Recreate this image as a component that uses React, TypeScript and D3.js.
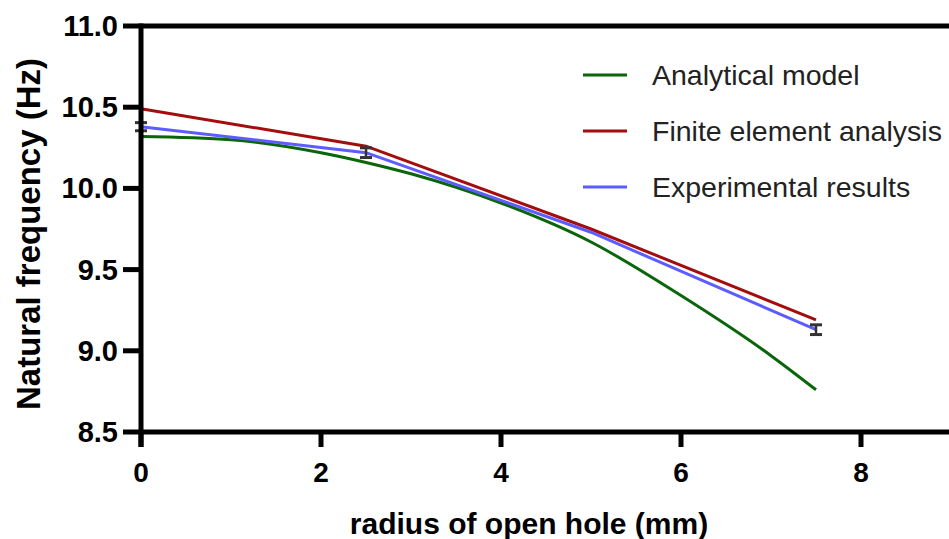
import React, { useEffect, useRef } from 'react';
import * as d3 from 'd3';

// radius of open hole (mm)
const analyticalX = [0, 1, 2, 2.5, 3, 4, 5, 6, 7, 7.5];
const analyticalY = [10.32, 10.3, 10.22, 10.16, 10.09, 9.91, 9.67, 9.34, 8.97, 8.76];

const feaX = [0, 2.5, 5, 7.5];
const feaY = [10.49, 10.26, 9.75, 9.19];

const expX = [0, 2.5, 5, 7.5];
const expY = [10.38, 10.22, 9.73, 9.13];
// error bar half widths (only at measured points)
const expErrX = [0, 2.5, 7.5];
const expErr = [0.025, 0.03, 0.03];

const xTicks = [0, 2, 4, 6, 8];
const yTicks = [8.5, 9.0, 9.5, 10.0, 10.5, 11.0];

const legendNames = ['Analytical model', 'Finite element analysis', 'Experimental results'];
const colors = ['#0b650b', '#a30d0d', '#5c5cff'];

export default function App() {
  const ref = useRef<SVGSVGElement>(null);

  useEffect(() => {
    const svg = d3.select(ref.current);
    svg.selectAll('*').remove();

    const W = 949, H = 539;
    const left = 141, top = 26, bottom = 432;

    const x = d3.scaleLinear().domain([0, 9]).range([left, left + 90 * 9]);
    const y = d3.scaleLinear().domain([8.5, 11]).range([bottom, top]);

    svg.append('rect').attr('width', W).attr('height', H).attr('fill', '#fff');

    const series: [number, number][][] = [
      analyticalX.map((v, i) => [v, analyticalY[i]]),
      feaX.map((v, i) => [v, feaY[i]]),
      expX.map((v, i) => [v, expY[i]]),
    ];
    const curves = [d3.curveMonotoneX, d3.curveLinear, d3.curveLinear];

    // data lines
    const g = svg.append('g');
    series.forEach((s, i) => {
      const line = d3.line<[number, number]>()
        .x(d => x(d[0]))
        .y(d => y(d[1]))
        .curve(curves[i]);
      g.append('path')
        .attr('d', line(s) as string)
        .attr('fill', 'none').attr('stroke', colors[i]).attr('stroke-width', 3);
    });

    // error bars
    const eb = g.selectAll('.eb').data(expErrX).join('g').attr('class', 'eb');
    eb.each(function (d, i) {
      const yi = expY[expX.indexOf(d)];
      const e = d3.select(this);
      const cx = x(d);
      e.append('line').attr('x1', cx).attr('x2', cx)
        .attr('y1', y(yi + expErr[i])).attr('y2', y(yi - expErr[i]))
        .attr('stroke', '#333').attr('stroke-width', 2.5);
      [yi + expErr[i], yi - expErr[i]].forEach(v => {
        e.append('line').attr('x1', cx - 6).attr('x2', cx + 6)
          .attr('y1', y(v)).attr('y2', y(v))
          .attr('stroke', '#333').attr('stroke-width', 3);
      });
    });

    // axes
    const ax = svg.append('g');
    ax.append('line').attr('x1', left).attr('x2', W).attr('y1', bottom).attr('y2', bottom)
      .attr('stroke', '#000').attr('stroke-width', 5);
    ax.append('line').attr('x1', left).attr('x2', W).attr('y1', top).attr('y2', top)
      .attr('stroke', '#000').attr('stroke-width', 5);
    ax.append('line').attr('x1', left).attr('x2', left).attr('y1', top - 2.5).attr('y2', bottom + 15)
      .attr('stroke', '#000').attr('stroke-width', 5);

    ax.selectAll('.xt').data(xTicks).join('line').attr('class', 'xt')
      .attr('x1', d => x(d)).attr('x2', d => x(d))
      .attr('y1', bottom).attr('y2', bottom + 15)
      .attr('stroke', '#000').attr('stroke-width', 5);
    ax.selectAll('.xl').data(xTicks).join('text').attr('class', 'xl')
      .attr('x', d => x(d)).attr('y', bottom + 50)
      .attr('text-anchor', 'middle')
      .style('font', 'bold 28px "Liberation Sans", Arial, sans-serif')
      .text(d => d3.format('d')(d));

    ax.selectAll('.yt').data(yTicks).join('line').attr('class', 'yt')
      .attr('x1', left - 18).attr('x2', left)
      .attr('y1', d => y(d)).attr('y2', d => y(d))
      .attr('stroke', '#000').attr('stroke-width', 5);
    ax.selectAll('.yl').data(yTicks).join('text').attr('class', 'yl')
      .attr('x', left - 23).attr('y', d => y(d) + 10)
      .attr('text-anchor', 'end')
      .style('font', 'bold 29px "Liberation Sans", Arial, sans-serif')
      .text(d => d3.format('.1f')(d));

    // axis titles
    svg.append('text')
      .attr('x', 529).attr('y', 534)
      .attr('text-anchor', 'middle')
      .style('font', 'bold 30px "Liberation Sans", Arial, sans-serif')
      .text('radius of open hole (mm)');
    svg.append('text')
      .attr('transform', `translate(40, 234) rotate(-90)`)
      .attr('text-anchor', 'middle')
      .style('font', 'bold 33px "Liberation Sans", Arial, sans-serif')
      .text('Natural frequency (Hz)');

    // legend
    const lg = svg.selectAll('.lg').data(legendNames).join('g').attr('class', 'lg')
      .attr('transform', (d, i) => `translate(583, ${75 + i * 56})`);
    lg.append('line').attr('x1', 0).attr('x2', 44).attr('y1', 0).attr('y2', 0)
      .attr('stroke', (d, i) => colors[i]).attr('stroke-width', 3);
    lg.append('text').attr('x', 69).attr('y', 10)
      .style('font', '28.5px "Liberation Sans", Arial, sans-serif')
      .attr('fill', '#222')
      .text(d => d);
  }, []);

  return (
    <svg ref={ref} width={949} height={539}
      style={{ position: 'absolute', left: 0, top: 0, display: 'block' }} />
  );
}
